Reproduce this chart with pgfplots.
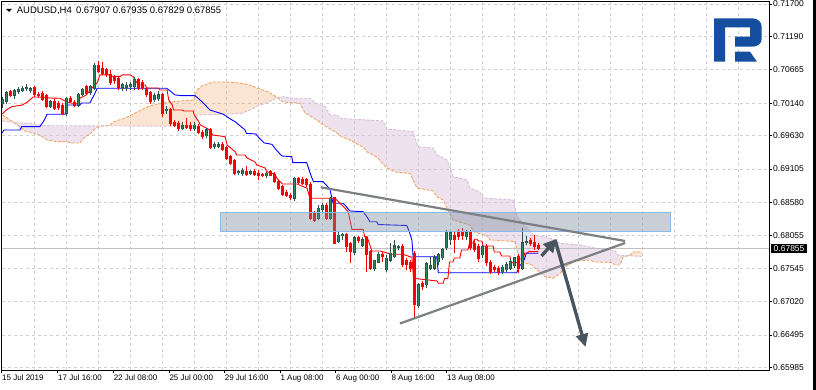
\documentclass[border=0pt]{standalone}
\usepackage{fontspec}
\setmainfont{Liberation Sans}
\usepackage{pgfplots}
\usepackage{pgfplotstable}
\pgfplotsset{compat=1.18}
\usepgfplotslibrary{fillbetween}
\usetikzlibrary{arrows.meta}

\definecolor{bullg}{RGB}{46,139,87}
\definecolor{wickd}{RGB}{47,79,79}
\definecolor{sandy}{RGB}{244,164,96}
\definecolor{thist}{RGB}{216,191,216}
\definecolor{gridc}{RGB}{208,208,208}
\definecolor{bidc}{RGB}{192,192,192}
\definecolor{zonefill}{RGB}{120,136,155}
\definecolor{zoneedge}{RGB}{140,185,235}
\definecolor{tri}{RGB}{125,128,130}
\definecolor{arrowc}{RGB}{72,84,94}
\definecolor{logob}{RGB}{20,78,158}

\pgfplotstableread{
i o h l c
0 0.70127 0.70237 0.70064 0.70190
1 0.70174 0.70331 0.70127 0.70300
3 0.70261 0.70363 0.70206 0.70339
4 0.70331 0.70394 0.70284 0.70355
5 0.70347 0.70410 0.70316 0.70371
6 0.70363 0.70442 0.70331 0.70386
7 0.70339 0.70394 0.70300 0.70363
12 0.70088 0.70190 0.70064 0.70159
16 0.69981 0.70232 0.69943 0.70217
19 0.70111 0.70300 0.70080 0.70280
20 0.70280 0.70379 0.70253 0.70358
22 0.70311 0.70426 0.70269 0.70399
23 0.70374 0.70767 0.70347 0.70740
30 0.70390 0.70458 0.70331 0.70426
31 0.70394 0.70473 0.70331 0.70418
32 0.70402 0.70473 0.70347 0.70426
33 0.70399 0.70552 0.70347 0.70505
38 0.70190 0.70300 0.70159 0.70253
39 0.70206 0.70331 0.70174 0.70269
41 0.70017 0.70096 0.69970 0.70041
45 0.69745 0.69848 0.69718 0.69786
48 0.69734 0.69848 0.69702 0.69796
51 0.69624 0.69754 0.69592 0.69718
53 0.69455 0.69534 0.69419 0.69482
54 0.69466 0.69534 0.69435 0.69487
59 0.69046 0.69089 0.69010 0.69062
60 0.69026 0.69120 0.68995 0.69078
62 0.69034 0.69089 0.69010 0.69065
66 0.68999 0.69062 0.68963 0.69037
73 0.68644 0.68974 0.68606 0.68958
79 0.68329 0.68538 0.68302 0.68486
80 0.68475 0.68570 0.68428 0.68527
82 0.68329 0.68669 0.68302 0.68644
84 0.67961 0.68118 0.67936 0.68066
85 0.68051 0.68093 0.67988 0.68077
88 0.67795 0.68055 0.67752 0.68024
90 0.67909 0.68040 0.67882 0.67988
93 0.67532 0.67673 0.67500 0.67658
94 0.67637 0.67804 0.67621 0.67763
96 0.67516 0.67752 0.67489 0.67700
97 0.67673 0.67936 0.67647 0.67779
98 0.67725 0.67988 0.67700 0.67898
99 0.67870 0.67909 0.67831 0.67890
104 0.66950 0.67311 0.66918 0.67280
106 0.67280 0.67642 0.67233 0.67618
107 0.67547 0.67720 0.67516 0.67579
108 0.67547 0.67752 0.67516 0.67705
109 0.67642 0.67783 0.67595 0.67752
110 0.67705 0.67862 0.67673 0.67831
111 0.67862 0.68145 0.67831 0.68114
112 0.67988 0.68130 0.67909 0.68098
116 0.68035 0.68145 0.67988 0.68098
120 0.67752 0.67909 0.67705 0.67878
125 0.67485 0.67595 0.67453 0.67563
126 0.67516 0.67642 0.67485 0.67595
127 0.67547 0.67689 0.67516 0.67642
128 0.67579 0.67720 0.67547 0.67705
130 0.67547 0.68177 0.67516 0.67941
131 0.67949 0.68051 0.67909 0.67964
}\bull

\pgfplotstableread{
i o h l c
2 0.70316 0.70347 0.70237 0.70261
8 0.70379 0.70410 0.70237 0.70269
9 0.70284 0.70316 0.70221 0.70253
10 0.70292 0.70331 0.70174 0.70190
11 0.70253 0.70284 0.70064 0.70088
13 0.70174 0.70206 0.70033 0.70059
14 0.70138 0.70174 0.70033 0.70069
15 0.70111 0.70143 0.69954 0.69981
17 0.70217 0.70253 0.70143 0.70163
18 0.70148 0.70190 0.70080 0.70111
21 0.70399 0.70426 0.70269 0.70295
24 0.70740 0.70803 0.70610 0.70635
25 0.70688 0.70788 0.70584 0.70610
26 0.70662 0.70693 0.70552 0.70584
27 0.70584 0.70662 0.70426 0.70469
28 0.70547 0.70584 0.70442 0.70489
29 0.70531 0.70568 0.70347 0.70390
34 0.70505 0.70536 0.70347 0.70374
35 0.70458 0.70505 0.70347 0.70379
36 0.70363 0.70394 0.70237 0.70269
37 0.70300 0.70331 0.70127 0.70163
40 0.70269 0.70300 0.69923 0.69981
42 0.70033 0.70064 0.69781 0.69824
43 0.69833 0.69875 0.69765 0.69786
44 0.69824 0.69860 0.69702 0.69734
46 0.69796 0.69907 0.69734 0.69754
47 0.69786 0.69844 0.69702 0.69734
49 0.69770 0.69812 0.69650 0.69682
50 0.69682 0.69718 0.69577 0.69608
52 0.69718 0.69749 0.69419 0.69439
55 0.69493 0.69529 0.69388 0.69419
56 0.69439 0.69466 0.69246 0.69262
57 0.69298 0.69325 0.69168 0.69194
58 0.69231 0.69262 0.69010 0.69037
61 0.69073 0.69156 0.69002 0.69021
63 0.69073 0.69105 0.69002 0.69021
64 0.69037 0.69089 0.68924 0.69010
65 0.69018 0.69042 0.68979 0.68999
67 0.69062 0.69089 0.68995 0.69010
68 0.69021 0.69058 0.68884 0.68905
69 0.68905 0.68932 0.68774 0.68801
70 0.68826 0.68853 0.68680 0.68707
71 0.68732 0.68774 0.68664 0.68691
72 0.68695 0.68727 0.68617 0.68653
74 0.68958 0.68984 0.68864 0.68895
75 0.68947 0.68979 0.68853 0.68880
76 0.68932 0.68963 0.68821 0.68853
77 0.68853 0.68905 0.68302 0.68329
78 0.68408 0.68444 0.68275 0.68302
81 0.68538 0.68570 0.68302 0.68329
83 0.68653 0.68669 0.67925 0.67936
86 0.68077 0.68093 0.67804 0.67882
87 0.67936 0.67961 0.67621 0.67804
89 0.68024 0.68051 0.67941 0.67972
91 0.68024 0.68040 0.67480 0.67752
92 0.67804 0.67831 0.67516 0.67543
95 0.67763 0.67795 0.67637 0.67725
100 0.67882 0.67925 0.67568 0.67595
101 0.67673 0.67705 0.67516 0.67595
102 0.67637 0.67673 0.67485 0.67543
103 0.67783 0.67815 0.66777 0.66966
105 0.67304 0.67343 0.67201 0.67256
113 0.68066 0.68114 0.67783 0.67988
114 0.68114 0.68161 0.67988 0.68035
115 0.68098 0.68177 0.67988 0.68051
117 0.68114 0.68145 0.67831 0.67862
118 0.67925 0.67988 0.67799 0.67831
119 0.67893 0.67925 0.67642 0.67689
121 0.67893 0.67925 0.67579 0.67626
122 0.67626 0.67673 0.67453 0.67500
123 0.67563 0.67595 0.67485 0.67516
124 0.67532 0.67579 0.67437 0.67469
129 0.67736 0.67767 0.67469 0.67547
132 0.67972 0.68019 0.67893 0.67925
133 0.67941 0.68066 0.67831 0.67885
134 0.67907 0.67935 0.67829 0.67855
}\bear

\begin{document}
\begin{tikzpicture}
\path (0,0) rectangle (816pt,-390pt);
\begin{axis}[
  at={(1.7pt,-1.7pt)}, anchor=north west,
  scale only axis, width=767.3pt, height=368.3pt,
  xmin=-0.15, xmax=191.675, ymin=0.65943, ymax=0.71736,
  axis background/.style={fill=white},
  axis line style={black, line width=0.8pt},
  tick align=outside,
  xtick pos=left, ytick pos=right, yticklabel pos=right,
  major tick length=3pt,
  tick style={black, line width=0.6pt},
  xtick={-0.15,13.85,27.75,41.675,55.5,69.425,83.35,97.175,111.1},
  xticklabels={15 Jul 2019,17 Jul 16:00,22 Jul 08:00,25 Jul 00:00,29 Jul 16:00,1 Aug 08:00,6 Aug 00:00,8 Aug 16:00,13 Aug 08:00},
  xticklabel style={anchor=north west, inner sep=0pt, xshift=0.3pt, yshift=-1.5pt, font=\fontsize{8}{9}\selectfont},
  ytick={0.65985,0.66495,0.67020,0.67545,0.68055,0.68580,0.69105,0.69630,0.70140,0.70665,0.71190,0.71700},
  yticklabels={0.65985,0.66495,0.67020,0.67545,0.68055,0.68580,0.69105,0.69630,0.70140,0.70665,0.71190,0.71700},
  yticklabel style={anchor=west, inner sep=0pt, xshift=1pt, font=\fontsize{8.5}{10}\selectfont},
  ymajorgrids,
  extra x ticks={8,16,...,184},
  extra x tick labels={},
  extra x tick style={grid=major, major tick length=0pt},
  grid style={dash pattern=on 3pt off 3pt, draw=gridc, line width=0.8pt},
]
% Senkou span A and B
\addplot[name path=A, sandy, line width=0.9pt, dash pattern=on 3pt off 1.5pt] coordinates {
(0,0.69954)(1.2,0.69907)(2.7,0.69844)(4.4,0.69765)(5.7,0.69702)(7.7,0.69671)(9.4,0.69639)(11.2,0.69561)
(13.7,0.69534)(16.2,0.69534)(17.4,0.69514)(19.4,0.69514)(20.4,0.69592)(21.9,0.69655)(23.4,0.69749)
(24.4,0.69773)(26.9,0.69797)(27.9,0.69848)(29.9,0.69891)(31.4,0.69927)(33.2,0.69985)(36.4,0.70085)
(38.2,0.70122)(41.4,0.70154)(45.7,0.70182)(47.7,0.70190)(48.7,0.70347)(49.9,0.70410)(52.7,0.70473)
(55.7,0.70473)(58.2,0.70465)(60.7,0.70442)(62.4,0.70410)(64.4,0.70363)(66.4,0.70320)(68.2,0.70253)
(70.2,0.70159)(74.4,0.70138)(75.7,0.69985)(78.7,0.69875)(79.9,0.69812)(83.7,0.69671)(84.9,0.69608)
(86.9,0.69561)(88.2,0.69514)(90.2,0.69451)(91.2,0.69372)(93.7,0.69293)(94.9,0.69199)(96.2,0.69120)
(98.2,0.69058)(101.9,0.69034)(102.7,0.68932)(103.7,0.68806)(107.7,0.68759)(108.7,0.68664)(110.2,0.68617)
(111.2,0.68491)(112.7,0.68302)(116.9,0.68224)(117.9,0.68114)(121.2,0.68051)(121.9,0.67988)(128.2,0.67964)
(128.9,0.67752)(129.4,0.67647)(132.4,0.67595)(133.7,0.67516)(135.7,0.67411)(137.7,0.67385)(139.4,0.67464)
(140.9,0.67568)(143.2,0.67658)(146.9,0.67673)(148.2,0.67642)(152.4,0.67634)(153.2,0.67595)(154.4,0.67595)
(155.2,0.67720)(156.9,0.67752)(157.9,0.67799)(159.9,0.67804)};
\addplot[name path=B, thist, line width=0.9pt, dash pattern=on 3pt off 1.5pt] coordinates {
(0,0.69860)(4,0.69828)(6.9,0.69824)(10.2,0.69786)(48.2,0.69776)(48.7,0.69954)(55.7,0.69965)(59.9,0.69981)
(61.9,0.70033)(63.9,0.70096)(66.4,0.70151)(68.7,0.70226)(70.2,0.70242)(71.9,0.70217)(76.9,0.70217)
(78.2,0.70143)(80.7,0.70085)(81.9,0.69954)(83.7,0.69954)(84.4,0.69902)(86.9,0.69891)(95.2,0.69860)
(96.2,0.69734)(98.7,0.69718)(102.7,0.69691)(103.9,0.69455)(107.7,0.69435)(108.7,0.69325)(111.2,0.69246)
(111.9,0.69141)(112.7,0.68984)(116.2,0.68932)(116.9,0.68806)(119.4,0.68743)(120.2,0.68648)(127.7,0.68617)
(128.7,0.68350)(131.2,0.68177)(132.7,0.68066)(136.4,0.68027)(138.2,0.67988)(139.4,0.67936)(144.4,0.67909)
(146.9,0.67878)(149.4,0.67846)(153.2,0.67815)(153.9,0.67752)(159.9,0.67728)};
\addplot[draw=none] fill between[of=A and B, split,
  every even segment/.style={fill=sandy, fill opacity=0.28},
  every odd segment/.style={fill=thist, fill opacity=0.45}];
% bid line
\addplot[bidc, line width=0.8pt] coordinates {(-0.15,0.67855)(191.675,0.67855)};
% Kijun-sen
\addplot[blue, line width=0.9pt] coordinates {
(0,0.69671)(0.4,0.69718)(4.4,0.69718)(4.8,0.69770)(9.4,0.69770)(10.5,0.69875)(11.2,0.69965)(15.7,0.69965)
(16.1,0.70111)(19.4,0.70111)(19.8,0.70143)(21.9,0.70143)(23.2,0.70300)(23.7,0.70374)(41.1,0.70374)
(43.2,0.70269)(45,0.70258)(48.2,0.70258)(50,0.70159)(51.9,0.70033)(53.5,0.70001)(55.3,0.69965)
(57,0.69891)(58.2,0.69848)(59.5,0.69781)(60.7,0.69718)(61,0.69666)(63.4,0.69655)(64.2,0.69592)
(65.5,0.69514)(67.4,0.69493)(68.5,0.69404)(69.9,0.69309)(72.4,0.69298)(72.6,0.69204)(76.1,0.69204)
(77.2,0.68995)(77.8,0.68905)(80.2,0.68905)(81.9,0.68790)(82.5,0.68617)(82.7,0.68565)(85.2,0.68565)
(86,0.68512)(86.9,0.68444)(90.2,0.68433)(91.2,0.68350)(91.9,0.68275)(93.6,0.68275)(94,0.68231)
(101.1,0.68216)(101.6,0.68145)(102.4,0.67988)(102.7,0.67725)(108.6,0.67725)(109,0.67473)(128.6,0.67473)
(129.2,0.67568)(130.2,0.67642)(130.6,0.67700)(131,0.67779)(134,0.67779)};
% Tenkan-sen
\addplot[red, line width=0.9pt] coordinates {
(0,0.69970)(1,0.70033)(2.4,0.70085)(5,0.70111)(6.4,0.70163)(7.7,0.70237)(9.4,0.70237)(12,0.70221)
(14.4,0.70217)(15.7,0.70174)(17.4,0.70138)(19,0.70138)(19.4,0.70217)(21,0.70269)(22.4,0.70379)
(23.7,0.70458)(24.4,0.70584)(27,0.70584)(27.7,0.70557)(29.4,0.70557)(30,0.70584)(32,0.70584)
(32.7,0.70557)(33.5,0.70478)(34,0.70426)(35.7,0.70426)(36.2,0.70379)(39,0.70379)(39.4,0.70347)
(41.2,0.70347)(41.6,0.70190)(42.5,0.70111)(42.8,0.70033)(44.9,0.70033)(45.4,0.70017)(47.7,0.70017)
(48,0.69954)(49,0.69860)(49.5,0.69797)(51.9,0.69718)(52.2,0.69691)(52.6,0.69639)(55.7,0.69613)
(56.2,0.69482)(58.2,0.69377)(58.6,0.69325)(60.7,0.69325)(61.2,0.69278)(63.2,0.69215)(63.6,0.69168)
(65.7,0.69120)(66.2,0.69058)(68.2,0.69026)(68.6,0.68963)(70,0.68869)(73.7,0.68869)(76.2,0.68801)
(76.9,0.68644)(83.2,0.68644)(84.4,0.68565)(85.7,0.68486)(86.5,0.68428)(87.4,0.68156)(90.2,0.68156)
(90.6,0.68040)(91.2,0.68040)(92.4,0.67815)(94.4,0.67815)(97.4,0.67763)(100.2,0.67763)(101.9,0.67725)
(102.4,0.67720)(102.8,0.67385)(108.7,0.67343)(109,0.67307)(110.2,0.67307)(110.6,0.67385)(111.4,0.67385)
(111.8,0.67642)(112.7,0.67642)(113,0.67705)(114.4,0.67705)(114.8,0.67831)(116.4,0.67831)(116.8,0.67941)
(117.7,0.67941)(118,0.67999)(118.7,0.67999)(119,0.67972)(119.9,0.67972)(120.2,0.67893)(122.7,0.67893)
(123,0.67799)(124.4,0.67799)(124.8,0.67736)(126.9,0.67736)(127.2,0.67631)(128.9,0.67631)(129.3,0.67689)
(130.2,0.67689)(130.6,0.67783)(131.2,0.67783)(131.6,0.67804)(134,0.67804)};
% candles: wicks
\addplot[mark=none, wickd, line width=0.9pt, quiver={u=0, v=\thisrow{h}-\thisrow{l}}] table[x=i, y=l] {\bull};
\addplot[mark=none, red, line width=0.9pt, quiver={u=0, v=\thisrow{h}-\thisrow{l}}] table[x=i, y=l] {\bear};
% candles: bodies
\addplot[mark=none, wickd, line width=3.3pt, shorten >=-0.5pt, shorten <=-0.5pt, quiver={u=0, v=\thisrow{c}-\thisrow{o}}] table[x=i, y=o] {\bull};
\addplot[mark=none, bullg, line width=1.5pt, quiver={u=0, v=\thisrow{c}-\thisrow{o}}] table[x=i, y=o] {\bull};
\addplot[mark=none, red, line width=3.3pt, shorten >=-0.5pt, shorten <=-0.5pt, quiver={u=0, v=\thisrow{c}-\thisrow{o}}] table[x=i, y=o] {\bear};
% zone
\draw[draw=zoneedge, line width=1pt, fill=zonefill, fill opacity=0.4] (axis cs:54.45,0.68417) rectangle (axis cs:167.1,0.68118);
% triangle
\draw[tri, line width=2.2pt] (axis cs:79.6,0.68817) -- (axis cs:155.7,0.67972);
\draw[tri, line width=2.2pt] (axis cs:99.4,0.66674) -- (axis cs:155.7,0.67941);
% arrows
\draw[arrowc, line width=3.3pt, -{Triangle[length=13pt,width=13pt]}] (axis cs:134.8,0.67736) -- (axis cs:138.55,0.68004);
\draw[arrowc, line width=3.3pt, -{Triangle[length=13pt,width=12pt]}] (axis cs:138.2,0.67988) -- (axis cs:145.8,0.66305);
\end{axis}
\begin{scope}[x=1pt, y=-1pt]
\node[fill=black, text=white, anchor=west, inner xsep=2.5pt, inner ysep=1.6pt, font=\fontsize{8.5}{10}\selectfont] at (771,248.4) {0.67855};
\fill[black] (813,0) rectangle (816,390);
\fill[black] (6,9) -- (12,9) -- (9,12) -- cycle;
\node[anchor=base west, inner sep=0pt, font=\fontsize{9.5}{11}\selectfont] at (16.7,13.3) {AUDUSD,H4\, 0.67907 0.67935 0.67829 0.67855};
\fill[logob] (714,61.7) -- (714,18.3) -- (752,18.3) .. controls (758,18.3) and (761.7,22) .. (761.7,27)
  -- (761.7,38.5) .. controls (761.7,43.5) and (758,46.7) .. (752,46.7) -- (735,46.7) -- (735,36.7)
  -- (750,36.7) -- (750,27.3) -- (725,27.3) -- (725,61.7) -- cycle;
\fill[logob] (735,51.7) -- (750,51.7) -- (757,61.7) -- (735,61.7) -- cycle;
\end{scope}
\pgfresetboundingbox
\useasboundingbox (0,0) rectangle (816pt,-390pt);
\end{tikzpicture}
\end{document}
